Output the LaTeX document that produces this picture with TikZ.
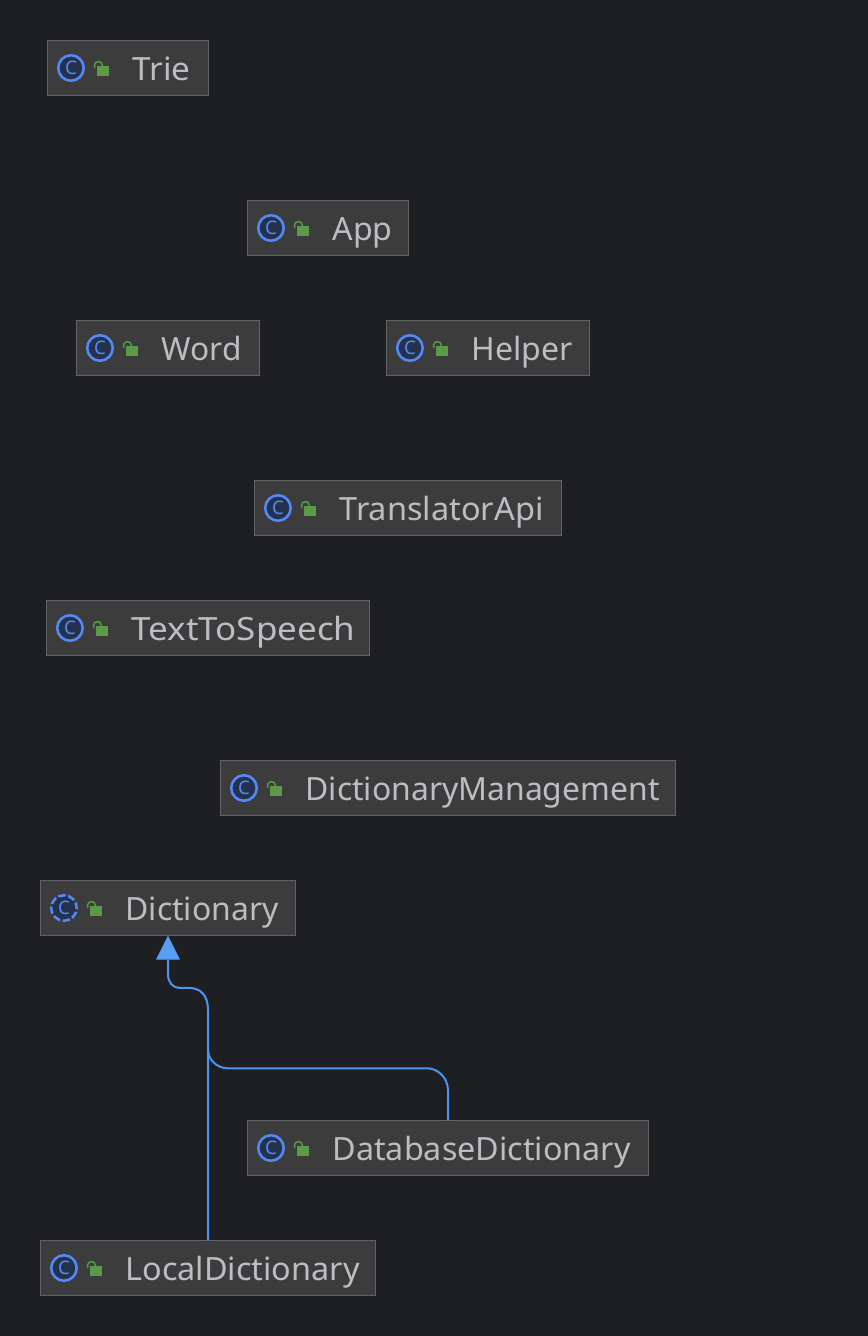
\documentclass[tikz,border=0pt]{standalone}
\usepackage{fontspec}
\usepackage{graphicx}
\setmainfont{Noto Sans}
\usetikzlibrary{arrows.meta}
\definecolor{bg}{HTML}{1E1F22}
\definecolor{boxfill}{HTML}{3C3C3C}
\definecolor{boxline}{HTML}{626364}
\definecolor{txt}{HTML}{BCBEC4}
\definecolor{iconline}{HTML}{548AF7}
\definecolor{iconfill}{HTML}{25324D}
\definecolor{lockc}{HTML}{5A9A48}
\definecolor{edge}{HTML}{4F94EE}
\definecolor{tipc}{HTML}{589DF6}
\tikzset{
  classbox/.style={draw=boxline,fill=boxfill,line width=.75pt,inner sep=0pt,outer sep=0pt,minimum height=41.5pt},
  classlabel/.style={text=txt,font=\fontsize{24}{28}\selectfont,inner sep=0pt,anchor=base west},
  badge/.style={draw=iconline,fill=iconfill,line width=1.9pt,circle,inner sep=0pt,minimum size=19.1pt},
  abadge/.style={badge,dash pattern=on 5.6pt off 1.9pt,dash phase=1.3pt},
  edgeline/.style={draw=edge,line width=1.5pt},
}
% #1 name, #2 left px, #3 right px, #4 centre y px, #5 text, #6 badge style, #7 text width px
\newcommand{\classnode}[7]{%
  \pgfmathsetmacro{\bw}{(#3-#2)*0.75}%
  \pgfmathsetmacro{\lw}{#7*0.75}%
  \node[classbox,minimum width=\bw pt] (#1) at ({(#2+#3)/2},#4) {};
  \node[#6] (#1B) at ([xshift=17.6pt]#1.west) {};
  \node[text=iconline,font=\fontsize{14}{14}\selectfont,inner sep=0pt] (#1C) at (#1B) {C};
  \draw[lockc,line width=1.1pt] ([xshift=35.3pt,yshift=0pt]#1.west) -- ([xshift=35.3pt,yshift=2pt]#1.west)
     arc[start angle=180,end angle=0,radius=2.9pt] -- ++(0,-.8pt);
  \fill[lockc] ([xshift=37.4pt,yshift=-6pt]#1.west) rectangle ([xshift=46.4pt,yshift=1.5pt]#1.west);
  \node[classlabel] (#1L) at ([xshift=63.6pt,yshift=-9pt]#1.west) {\resizebox{\lw pt}{\height}{#5}};
}
\begin{document}
\begin{tikzpicture}[x=0.75pt,y=-0.75pt]
\fill[bg] (0,0) rectangle (868,1336);
\useasboundingbox (0,0) rectangle (868,1336);
\classnode{trie}{47.5}{208.5}{68}{Trie}{badge}{58}
\classnode{app}{247.5}{408.5}{228}{App}{badge}{60}
\classnode{word}{76.5}{259.5}{348}{Word}{badge}{80}
\classnode{helper}{386.5}{589.5}{348}{Helper}{badge}{101}
\classnode{translator}{254.5}{561.5}{508}{TranslatorApi}{badge}{204}
\classnode{tts}{46.5}{369.5}{628}{TextToSpeech}{badge}{224}
\classnode{mgmt}{220.5}{675.5}{788}{DictionaryManagement}{badge}{354}
\classnode{dict}{40.5}{295.5}{908}{Dictionary}{abadge}{153}
\classnode{db}{247.5}{648.5}{1148}{DatabaseDictionary}{badge}{298}
\classnode{local}{40.5}{375.5}{1268}{LocalDictionary}{badge}{234}
\coordinate (tipbase) at ([yshift=-18pt]dict.south);
\draw[edgeline] (local.north) -- ++(0,-230)
  .. controls ++(0,-16) and ++(12,0) .. ++(-20,-22.5)
  -- ++(-8,0)
  .. controls ++(-8,0) and ++(0,8) .. ++(-12,-14)
  -- (tipbase);
\draw[edgeline] (db.north) -- ++(0,-30)
  .. controls ++(0,-14) and ++(8,0) .. ++(-20,-22)
  -- ++(-200,0)
  .. controls ++(-12,0) and ++(0,8) .. ++(-20,-18);
\fill[tipc] (dict.south) -- ([xshift=9pt]tipbase) -- ([xshift=-9pt]tipbase) -- cycle;
\end{tikzpicture}
\end{document}
